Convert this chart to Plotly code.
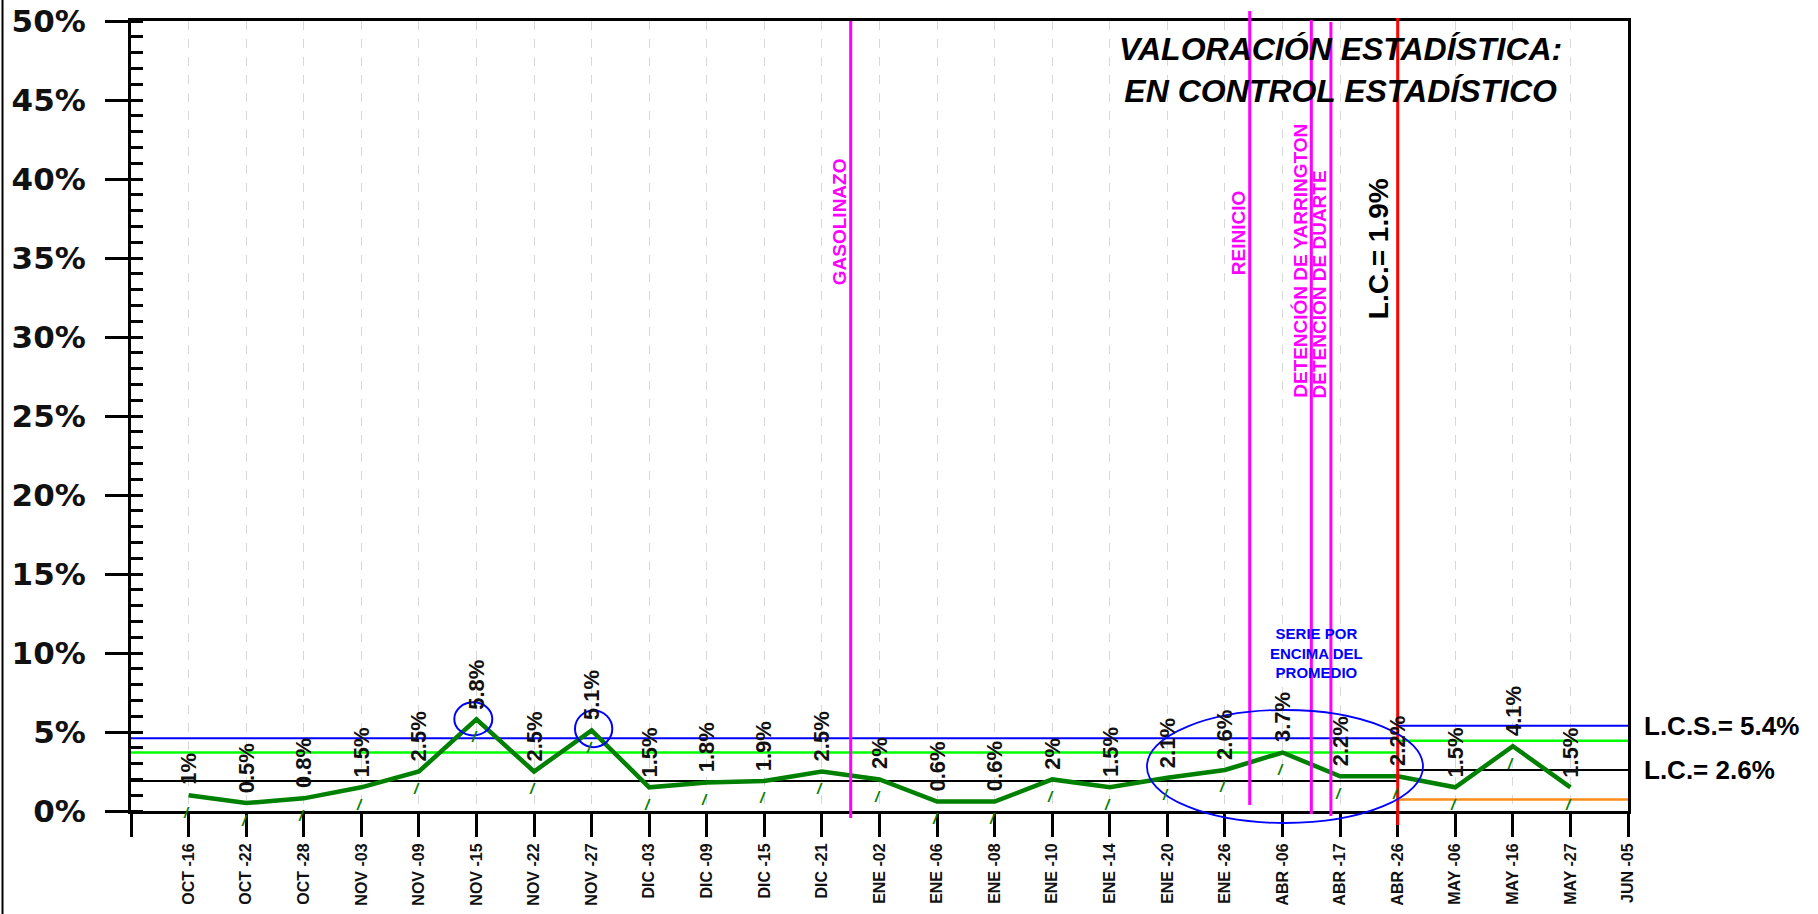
import plotly.graph_objects as go

# ---------------- data ----------------
categories = ["OCT -16", "OCT -22", "OCT -28", "NOV -03", "NOV -09", "NOV -15", "NOV -22",
              "NOV -27", "DIC -03", "DIC -09", "DIC -15", "DIC -21", "ENE -02", "ENE -06",
              "ENE -08", "ENE -10", "ENE -14", "ENE -20", "ENE -26", "ABR -06", "ABR -17",
              "ABR -26", "MAY -06", "MAY -16", "MAY -27", "JUN -05"]
values = [1, 0.5, 0.8, 1.5, 2.5, 5.8, 2.5, 5.1, 1.5, 1.8, 1.9, 2.5, 2, 0.6, 0.6, 2,
          1.5, 2.1, 2.6, 3.7, 2.2, 2.2, 1.5, 4.1, 1.5]

# control limits, two periods (start/end category positions)
period_x = [[-1, 21], [21, 25]]
lcs = [4.6, 5.4]
two_sigma = [3.7, 4.45]
lc = [1.9, 2.6]
lower = [None, 0.72]

# events (vertical lines)
event_names = ["GASOLINAZO", "REINICIO", "DETENCIÓN DE YARRINGTON", "DETENCION DE DUARTE"]
event_pos = [11.5, 18.43, 19.5, 19.84]
change_pos = 21
change_label = "L.C.= 1.9%"

yticks = [0, 5, 10, 15, 20, 25, 30, 35, 40, 45, 50]
ytick_text = [f"{v}%" for v in yticks]

L, R, T, B = 131, 190, 21, 103
W, H = 1818, 914
PW = W - L - R
PH = H - T - B


def py(pix):
    return (H - B - pix) / PH


fig = go.Figure()

# control lines
for i, xs in enumerate(period_x):
    fig.add_trace(go.Scatter(x=xs, y=[lcs[i]] * 2, mode="lines",
                             line=dict(color="#0000ff", width=2), hoverinfo="skip"))
    fig.add_trace(go.Scatter(x=xs, y=[two_sigma[i]] * 2, mode="lines",
                             line=dict(color="#00ff00", width=2.5), hoverinfo="skip"))
    fig.add_trace(go.Scatter(x=xs, y=[lc[i]] * 2, mode="lines",
                             line=dict(color="#000000", width=2), hoverinfo="skip"))
    if lower[i] is not None:
        fig.add_trace(go.Scatter(x=xs, y=[lower[i]] * 2, mode="lines",
                                 line=dict(color="#ff8c1a", width=2.5), hoverinfo="skip"))

# main series
xs_main = list(range(len(values)))
fig.add_trace(go.Scatter(x=xs_main, y=values, mode="lines",
                         line=dict(color="#008000", width=4.5)))

annotations = []
# data labels + green slash marks
for i, v in enumerate(values):
    annotations.append(dict(x=i, y=v, xref="x", yref="y", text=f"{v:g}%",
                            textangle=-90, showarrow=False, yanchor="bottom",
                            xanchor="center", yshift=8,
                            font=dict(family="Liberation Sans", size=22, color="#111111",
                                      weight="bold")))
    annotations.append(dict(x=i, y=v, xref="x", yref="y", text="<i>/</i>",
                            showarrow=False, yanchor="middle", xanchor="center",
                            yshift=-17, xshift=-2,
                            font=dict(family="Liberation Sans", size=15, color="#008000",
                                      weight="bold")))

# event labels
event_label_y = [py(222), py(233), py(261), py(284)]
for name, xp, yy in zip(event_names, event_pos, event_label_y):
    annotations.append(dict(x=xp, y=yy, xref="x", yref="paper", text=name,
                            textangle=-90, showarrow=False, xanchor="right",
                            yanchor="middle", xshift=1,
                            font=dict(family="Liberation Sans", size=19, color="#ff00ff",
                                      weight="bold")))
annotations.append(dict(x=change_pos, y=py(249), xref="x", yref="paper", text=change_label,
                        textangle=-90, showarrow=False, xanchor="right", yanchor="middle",
                        xshift=-2,
                        font=dict(family="Liberation Sans", size=28, color="#000000",
                                  weight="bold")))

# title
annotations.append(dict(x=20, y=py(70), xref="x", yref="paper",
                        text="VALORACIÓN ESTADÍSTICA:<br>EN CONTROL ESTADÍSTICO",
                        showarrow=False, xanchor="center", yanchor="middle",
                        font=dict(family="Liberation Sans", size=32, color="#000000",
                                  weight="bold", style="italic")))

# series note
annotations.append(dict(x=19.59, y=10, xref="x", yref="y",
                        text="SERIE POR<br>ENCIMA DEL<br>PROMEDIO",
                        showarrow=False, xanchor="center", yanchor="middle",
                        font=dict(family="Liberation Sans", size=15, color="#0000ff",
                                  weight="bold")))

# right side limit labels
annotations.append(dict(x=1.0094, y=lcs[1], xref="paper", yref="y",
                        text=f"L.C.S.= {lcs[1]}%", showarrow=False, xanchor="left",
                        yanchor="middle",
                        font=dict(family="Liberation Sans", size=26, color="#000000",
                                  weight="bold")))
annotations.append(dict(x=1.0094, y=lc[1], xref="paper", yref="y",
                        text=f"L.C.= {lc[1]}%", showarrow=False, xanchor="left",
                        yanchor="middle",
                        font=dict(family="Liberation Sans", size=26, color="#000000",
                                  weight="bold")))

shapes = []
event_y = [(py(818), py(21)), (py(805), py(11)), (py(814), py(20)), (py(816), py(22))]
for xp, (y0, y1) in zip(event_pos, event_y):
    shapes.append(dict(type="line", xref="x", yref="paper", x0=xp, x1=xp, y0=y0, y1=y1,
                       line=dict(color="#ff00ff", width=3)))
shapes.append(dict(type="line", xref="x", yref="paper", x0=change_pos, x1=change_pos,
                   y0=py(825), y1=py(18), line=dict(color="#ff0000", width=3)))

# highlight ellipses
shapes.append(dict(type="circle", xref="x", yref="y", x0=4.615, x1=5.275, y0=4.78, y1=6.88,
                   line=dict(color="#0000ff", width=2)))
shapes.append(dict(type="circle", xref="x", yref="y", x0=6.711, x1=7.359, y0=4.04, y1=6.36,
                   line=dict(color="#0000ff", width=2)))
shapes.append(dict(type="circle", xref="x", yref="paper", x0=16.645, x1=21.44,
                   y0=py(823), y1=py(710), line=dict(color="#0000ff", width=1.8)))

# left figure border
bx = (2.5 - L) / PW
shapes.append(dict(type="line", xref="paper", yref="paper", x0=bx, x1=bx,
                   y0=py(H), y1=py(0), line=dict(color="#000000", width=2)))

fig.update_layout(
    template="none",
    width=W, height=H,
    margin=dict(l=L, r=R, t=T, b=B, pad=0, autoexpand=False),
    paper_bgcolor="white", plot_bgcolor="white",
    showlegend=False,
    annotations=annotations,
    shapes=shapes,
    xaxis=dict(range=[-1, 25], tickmode="array", tickvals=list(range(-1, 26)),
               ticktext=[""] + categories, tickangle=-90, automargin=False,
               ticks="outside", ticklen=23, tickwidth=3, tickcolor="#000000",
               tickfont=dict(family="Liberation Sans", size=16, color="#111111",
                             weight="bold"),
               showline=True, linewidth=3, linecolor="#000000", mirror=True,
               showgrid=True, gridcolor="#d8d8d8", gridwidth=1, griddash="dash",
               zeroline=False, fixedrange=True),
    yaxis=dict(range=[0, 50], tickmode="array", tickvals=yticks, ticktext=ytick_text,
               automargin=False,
               ticks="outside", ticklen=23, tickwidth=2.5, tickcolor="#000000",
               tickfont=dict(family="DejaVu Sans", size=31, color="#111111", weight="bold"),
               ticklabelstandoff=13,
               minor=dict(dtick=1, ticks="inside", ticklen=12, tickwidth=2.5,
                          tickcolor="#000000", showgrid=False),
               showline=True, linewidth=3, linecolor="#000000", mirror=True,
               showgrid=False, zeroline=False, fixedrange=True),
)

fig.write_html("out.html", include_plotlyjs=True, config={"displayModeBar": False},
               post_script="document.body.style.margin='0';document.body.style.overflow='hidden';")
